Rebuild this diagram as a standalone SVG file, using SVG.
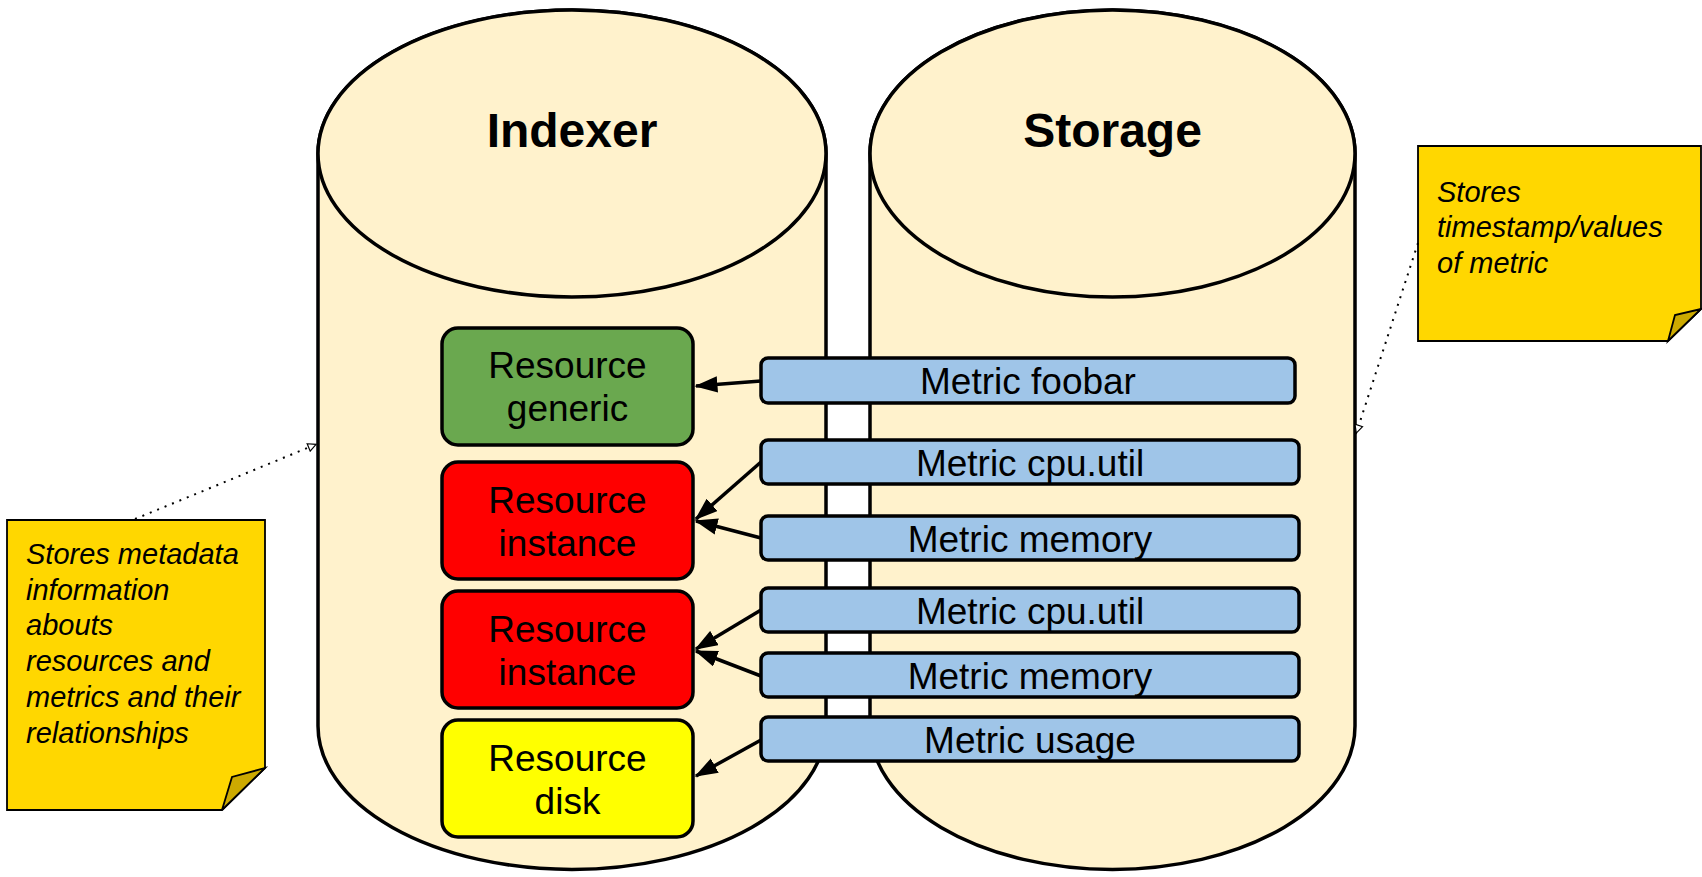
<svg xmlns="http://www.w3.org/2000/svg" width="1702" height="877" viewBox="0 0 1702 877">
<defs>
<style>
.cyl{fill:#FFF2CC;stroke:#000;stroke-width:3.5}
.res{stroke:#000;stroke-width:3.5}
.met{fill:#9FC5E8;stroke:#000;stroke-width:3.5}
.t{font-family:"Liberation Sans",Arial,sans-serif;font-size:37px;fill:#000;text-anchor:middle}
.title{font-family:"Liberation Sans",Arial,sans-serif;font-size:48px;font-weight:bold;fill:#000;text-anchor:middle}
.note{fill:#FFD700;stroke:#000;stroke-width:1.8}
.fold{fill:#CCAA00;stroke:#000;stroke-width:1.8}
.nt{font-family:"Liberation Sans",Arial,sans-serif;font-size:29px;font-style:italic;fill:#000}
.arr{fill:none;stroke:#000;stroke-width:3.5}
.dot{fill:none;stroke:#000;stroke-width:2;stroke-dasharray:2 6}
</style>
<marker id="ah" viewBox="0 0 14 10" refX="13" refY="5" markerWidth="6.6" markerHeight="4.8" markerUnits="strokeWidth" orient="auto">
<path d="M0,0 L14,5 L0,10 z" fill="#000"/>
</marker>
<marker id="oh" viewBox="0 0 10 10" refX="10" refY="5" markerWidth="5" markerHeight="5" markerUnits="strokeWidth" orient="auto">
<path d="M1,1 L9,5 L1,9 z" fill="#fff" stroke="#000" stroke-width="1.2"/>
</marker>
</defs>
<rect width="1702" height="877" fill="#fff"/>

<g id="indexer">
<path class="cyl" d="M318,153.5 L318,726 A254,143.5 0 0 0 826,726 L826,153.5 A254,143.5 0 0 0 318,153.5 Z"/>
<ellipse class="cyl" cx="572" cy="153.5" rx="254" ry="143.5"/>
<text class="title" x="572" y="147">Indexer</text>
</g>

<g id="storage">
<path class="cyl" d="M870,153.5 L870,726 A242.5,143.5 0 0 0 1355,726 L1355,153.5 A242.5,143.5 0 0 0 870,153.5 Z"/>
<ellipse class="cyl" cx="1112.5" cy="153.5" rx="242.5" ry="143.5"/>
<text class="title" x="1112.5" y="147">Storage</text>
</g>

<g id="res-generic">
<rect class="res" x="442" y="328" width="251" height="117" rx="16" fill="#6AA84F"/>
<text class="t" x="567.5" y="378">Resource</text>
<text class="t" x="567.5" y="421">generic</text>
</g>
<g id="res-instance-1">
<rect class="res" x="442" y="462" width="251" height="117" rx="16" fill="#FF0000"/>
<text class="t" x="567.5" y="513">Resource</text>
<text class="t" x="567.5" y="556">instance</text>
</g>
<g id="res-instance-2">
<rect class="res" x="442" y="591" width="251" height="117" rx="16" fill="#FF0000"/>
<text class="t" x="567.5" y="642">Resource</text>
<text class="t" x="567.5" y="685">instance</text>
</g>
<g id="res-disk">
<rect class="res" x="442" y="720" width="251" height="117" rx="16" fill="#FFFF00"/>
<text class="t" x="567.5" y="771">Resource</text>
<text class="t" x="567.5" y="814">disk</text>
</g>

<g id="metric-foobar">
<rect class="met" x="761" y="358" width="534" height="45" rx="7"/>
<text class="t" x="1028" y="394">Metric foobar</text>
</g>
<g id="metric-cpu-1">
<rect class="met" x="761" y="440" width="538" height="44" rx="7"/>
<text class="t" x="1030" y="476">Metric cpu.util</text>
</g>
<g id="metric-memory-1">
<rect class="met" x="761" y="516" width="538" height="44" rx="7"/>
<text class="t" x="1030" y="552">Metric memory</text>
</g>
<g id="metric-cpu-2">
<rect class="met" x="761" y="588" width="538" height="44" rx="7"/>
<text class="t" x="1030" y="624">Metric cpu.util</text>
</g>
<g id="metric-memory-2">
<rect class="met" x="761" y="653" width="538" height="44" rx="7"/>
<text class="t" x="1030" y="689">Metric memory</text>
</g>
<g id="metric-usage">
<rect class="met" x="761" y="717" width="538" height="44" rx="7"/>
<text class="t" x="1030" y="753">Metric usage</text>
</g>

<g id="note-indexer">
<path class="note" d="M7,520 L265,520 L265,768 L222,810 L7,810 Z"/>
<path class="fold" d="M222,810 L232,777 L265,768 Z"/>
<text class="nt" x="26" y="564">Stores metadata</text>
<text class="nt" x="26" y="600">information</text>
<text class="nt" x="26" y="635">abouts</text>
<text class="nt" x="26" y="671">resources and</text>
<text class="nt" x="26" y="707">metrics and their</text>
<text class="nt" x="26" y="743">relationships</text>
</g>

<g id="note-storage">
<path class="note" d="M1418,146 L1701,146 L1701,309 L1668,341 L1418,341 Z"/>
<path class="fold" d="M1668,341 L1675,315 L1701,309 Z"/>
<text class="nt" x="1437" y="202">Stores</text>
<text class="nt" x="1437" y="237">timestamp/values</text>
<text class="nt" x="1437" y="273">of metric</text>
</g>

<g id="connectors">
<line class="arr" x1="761" y1="381" x2="696" y2="386" marker-end="url(#ah)"/>
<line class="arr" x1="761" y1="462" x2="696" y2="519" marker-end="url(#ah)"/>
<line class="arr" x1="761" y1="538" x2="696" y2="521" marker-end="url(#ah)"/>
<line class="arr" x1="761" y1="610" x2="696" y2="649" marker-end="url(#ah)"/>
<line class="arr" x1="761" y1="676" x2="696" y2="651" marker-end="url(#ah)"/>
<line class="arr" x1="761" y1="740" x2="696" y2="776" marker-end="url(#ah)"/>
<line class="dot" x1="135" y1="519" x2="317" y2="444" marker-end="url(#oh)"/>
<line class="dot" x1="1418" y1="243" x2="1356" y2="434" marker-end="url(#oh)"/>
</g>
</svg>
